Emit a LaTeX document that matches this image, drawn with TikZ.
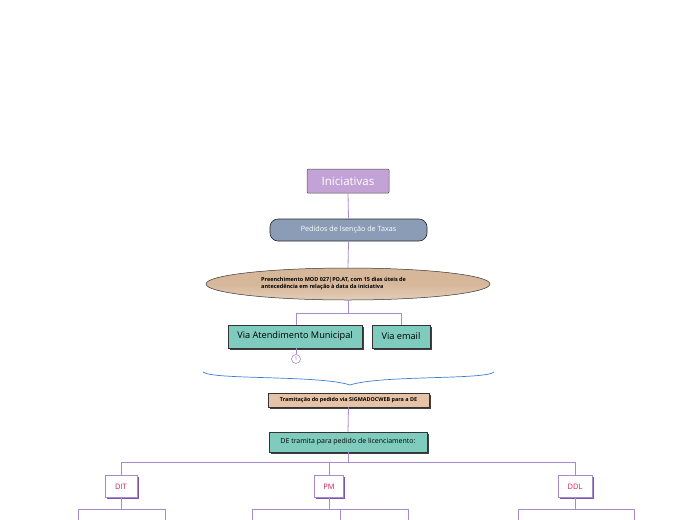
\documentclass[tikz,border=0pt]{standalone}
\usepackage{fontspec}
\setmainfont{Open Sans}
\usetikzlibrary{shapes.geometric,shadows}
\definecolor{lin}{HTML}{A98BCB}
\definecolor{ini}{HTML}{C3A3D6}
\definecolor{ped}{HTML}{8B9CB6}
\definecolor{tan}{HTML}{D7B79A}
\definecolor{tanl}{HTML}{E6C3A6}
\definecolor{teal}{HTML}{7FCCBF}
\definecolor{brc}{HTML}{3D7FD0}
\definecolor{redt}{HTML}{D4145A}
\definecolor{dshadow}{HTML}{7A55A8}
\tikzset{
  conn/.style={draw=lin, line width=0.8pt},
  tealbox/.style={draw=black!80, fill=teal, line width=0.5pt, minimum height=23pt, inner sep=3pt,
    drop shadow={shadow xshift=2pt, shadow yshift=-2pt, fill=black!75, opacity=1}},
  subbox/.style={draw=lin, fill=white, line width=0.7pt, minimum height=22pt, text=redt, font=\fontsize{7.5}{8}\selectfont,
    drop shadow={shadow xshift=1.6pt, shadow yshift=-1.6pt, fill=dshadow, opacity=1}},
}
\begin{document}
\begin{tikzpicture}[x=1pt,y=-1pt]
\useasboundingbox (0,0) rectangle (697,520);
% nodes
\node[draw=black!70, fill=ini, line width=0.5pt, rounded corners=1pt, minimum width=82pt, minimum height=24pt,
  text=white, font=\fontsize{11.5}{12}\selectfont] (ini) at (348,181) {Iniciativas};
\node[draw=black!85, fill=ped, line width=0.6pt, rounded corners=8pt, minimum width=157pt, minimum height=22pt,
  text=white, font=\fontsize{7.2}{8}\selectfont] (ped) at (348.5,230) {Pedidos de Isenção de Taxas};
\node[ellipse, draw=black!80, line width=0.5pt, top color=tan, bottom color=tan!70!white, middle color=tan,
  minimum width=284pt, minimum height=32pt, inner sep=0pt] (ell) at (348,284) {};
\node[align=left, font=\bfseries\fontsize{5.5}{7}\selectfont, inner sep=0pt, anchor=west] (elltxt) at (261,284)
  {Preenchimento MOD 027|PO.AT, com 15 dias úteis de\\antecedência em relação à data da iniciativa};
\node[tealbox, minimum width=134pt, font=\fontsize{9.2}{10}\selectfont] (vam) at (295,336.5) {Via Atendimento Municipal};
\node[tealbox, minimum width=58pt, font=\fontsize{9.2}{10}\selectfont] (vem) at (401,336.5) {Via email};
\node[circle, draw=lin, line width=0.6pt, fill=white, inner sep=0pt, minimum size=9pt,
  text=lin!80!black, font=\fontsize{5}{5}\selectfont] (c1) at (296,359) {1};
\node[draw=black!80, fill=tanl, line width=0.5pt, minimum width=161pt, minimum height=14pt, inner sep=1pt,
  font=\bfseries\fontsize{5.4}{6}\selectfont,
  drop shadow={shadow xshift=1.6pt, shadow yshift=-1.6pt, fill=black!75, opacity=1}] (tram) at (348.5,400) {Tramitação do pedido via SIGMADOCWEB para a DE};
\node[tealbox, minimum width=158pt, minimum height=20pt, font=\fontsize{7}{8}\selectfont] (de) at (348,442) {DE tramita para pedido de licenciamento:};
\node[subbox, minimum width=32pt] (dit) at (121,486.5) {DIT};
\node[subbox, minimum width=29pt] (pm) at (329,486.5) {PM};
\node[subbox, minimum width=34pt] (ddl) at (575,486.5) {DDL};
% coordinates
\coordinate (j1) at (348,313);
\coordinate (j1l) at (296,313);
\coordinate (j1r) at (401,313);
\coordinate (j2) at (348,462.5);
\coordinate (j2l) at (121,462.5);
\coordinate (j2m) at (329,462.5);
\coordinate (j2r) at (575,462.5);
\coordinate (bl) at (203,372);
\coordinate (bt) at (350,385);
\coordinate (br) at (494,372);
% connectors
\draw[conn] (ini.south) -- (ped.north);
\draw[conn] (ped.south) -- (ell.north);
\draw[conn] (ell.south) -- (j1);
\draw[conn] (vam.north -| j1l) -- (j1l) -- (j1r) -- (vem.north -| j1r);
\draw[conn] (vam.south -| c1) -- (c1.north);
\draw[brc, line width=0.7pt] (bl) .. controls (212,380) and (320,375) .. (bt) .. controls (380,375) and (486,380) .. (br);
\draw[conn] (tram.south) -- (de.north);
\draw[conn] (de.south) -- (j2);
\draw[conn] (dit.north) -- (j2l) -- (j2r) -- (ddl.north);
\draw[conn] (j2m) -- (pm.north);
% children stubs
\coordinate (d1) at (121,509);
\coordinate (d1l) at (78,509);
\coordinate (d1r) at (165,509);
\draw[conn] (dit.south) -- (d1);
\draw[conn] (78,521) -- (d1l) -- (d1r) -- (165,521);
\coordinate (p1) at (329,509);
\draw[conn] (pm.south) -- (p1);
\draw[conn] (252,521) -- (252,509) -- (408,509) -- (408,521);
\draw[conn] (340,509) -- (340,521);
\coordinate (q1) at (575,509);
\draw[conn] (ddl.south) -- (q1);
\draw[conn] (518,521) -- (518,509) -- (634,509) -- (634,521);
\end{tikzpicture}
\end{document}
